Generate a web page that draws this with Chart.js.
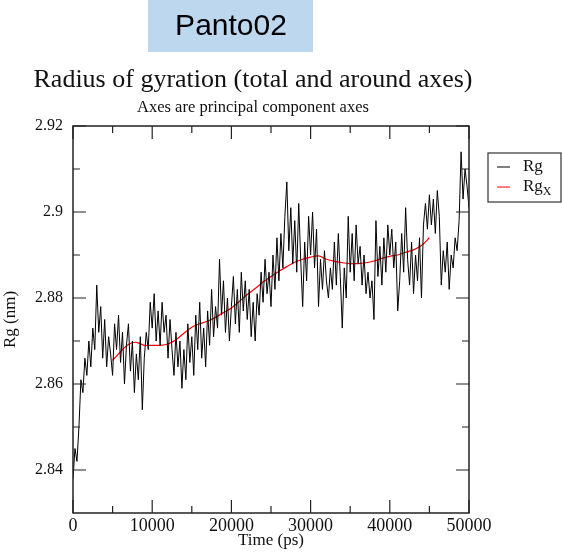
<!DOCTYPE html>
<html>
<head>
<meta charset="utf-8">
<script src="https://cdn.jsdelivr.net/npm/chart.js@4.4.1/dist/chart.umd.min.js"></script>
<style>
  html, body { margin: 0; padding: 0; background: #fff; }
  #wrap { position: relative; width: 562px; height: 552px; }
</style>
</head>
<body>
<div id="wrap"><canvas id="rgChart" width="562" height="552"></canvas></div>
<script>
// ---------- Dades ----------
const headerText = "Panto02";
const chartTitle = "Radius of gyration (total and around axes)";
const chartSubtitle = "Axes are principal component axes";
const xTitle = "Time (ps)";
const yTitle = "Rg (nm)";

// Rg total, una mostra cada 250 ps (0 .. 50000 ps)
const rgStep = 250;
const rgValues = [
  2.838, 2.845, 2.842, 2.850,  2.861, 2.858, 2.866, 2.862,
  2.870, 2.864, 2.873, 2.868,  2.883, 2.872, 2.878, 2.866,
  2.875, 2.864, 2.871, 2.867,  2.862, 2.874, 2.868, 2.876,
  2.865, 2.872, 2.860, 2.869,  2.874, 2.863, 2.870, 2.858,
  2.867, 2.861, 2.871, 2.854,  2.866, 2.872, 2.868, 2.879,
  2.873, 2.881, 2.870, 2.877,  2.869, 2.879, 2.872, 2.876,
  2.866, 2.875, 2.868, 2.862,  2.872, 2.864, 2.870, 2.859,
  2.868, 2.861, 2.874, 2.865,  2.871, 2.862, 2.876, 2.868,
  2.879, 2.866, 2.873, 2.864,  2.877, 2.869, 2.882, 2.871,
  2.878, 2.873, 2.889, 2.876,  2.884, 2.872, 2.880, 2.870,
  2.878, 2.885, 2.874, 2.882,  2.872, 2.886, 2.877, 2.884,
  2.875, 2.882, 2.871, 2.879,  2.870, 2.881, 2.876, 2.886,
  2.879, 2.889, 2.881, 2.886,  2.878, 2.890, 2.882, 2.894,
  2.884, 2.895, 2.887, 2.899,  2.907, 2.891, 2.901, 2.888,
  2.898, 2.886, 2.902, 2.889,  2.878, 2.893, 2.884, 2.899,
  2.890, 2.900, 2.887, 2.896,  2.878, 2.889, 2.882, 2.891,
  2.884, 2.880, 2.887, 2.882,  2.893, 2.883, 2.895, 2.885,
  2.873, 2.887, 2.880, 2.899,  2.886, 2.895, 2.884, 2.897,
  2.888, 2.892, 2.883, 2.890,  2.881, 2.886, 2.880, 2.884,
  2.875, 2.898, 2.885, 2.892,  2.883, 2.894, 2.886, 2.897,
  2.890, 2.896, 2.887, 2.893,  2.877, 2.884, 2.895, 2.886,
  2.901, 2.889, 2.883, 2.893,  2.881, 2.890, 2.884, 2.894,
  2.880, 2.897, 2.902, 2.896,  2.904, 2.897, 2.903, 2.895,
  2.905, 2.899, 2.883, 2.891,  2.886, 2.893, 2.882, 2.890,
  2.887, 2.894, 2.891, 2.898,  2.914, 2.903, 2.910, 2.906,
  2.901
];

// Rg al voltant de l'eix X (mitjana mòbil), 5000 .. 45000 ps
const rgxTimes = [
  5000, 6000, 7000, 8000, 9000, 10000, 11000, 12000, 13000, 14000,
  15000, 16000, 17000, 18000, 19000, 20000, 21000, 22000, 23000, 24000,
  25000, 26000, 27000, 28000, 29000, 30000, 31000, 32000, 33000, 34000,
  35000, 36000, 37000, 38000, 39000, 40000, 41000, 42000, 43000, 44000, 45000
];
const rgxValues = [
  2.8655, 2.8675, 2.8692, 2.8697, 2.8690, 2.8690, 2.8690, 2.8693, 2.8703, 2.8718,
  2.8732, 2.8740, 2.8746, 2.8755, 2.8766, 2.8777, 2.8792, 2.8808, 2.8822, 2.8837,
  2.8850, 2.8862, 2.8873, 2.8883, 2.8890, 2.8895, 2.8898, 2.8890, 2.8885, 2.8882,
  2.8880, 2.8880, 2.8882, 2.8886, 2.8892, 2.8897, 2.8900, 2.8906, 2.8912, 2.8922, 2.8940
];

// Marques dels eixos
const xMajorTicks = [0, 10000, 20000, 30000, 40000, 50000];
const xMinorTicks = [5000, 15000, 25000, 35000, 45000];
const yMajorTicks = [2.84, 2.86, 2.88, 2.90, 2.92];
const yMinorTicks = [2.85, 2.87, 2.89, 2.91];

// ---------- Estils ----------
const serif = '"Liberation Serif", "DejaVu Serif", "Times New Roman", serif';
const sans = '"Liberation Sans", Arial, sans-serif';

// ---------- Decoració: capçalera, títols, marc, marques i llegenda ----------
const decorPlugin = {
  id: 'decor',
  beforeDraw(chart) {
    const ctx = chart.ctx;
    ctx.save();
    ctx.fillStyle = '#bdd7ee';
    ctx.fillRect(148, 0, 165, 52);
    ctx.fillStyle = '#000';
    ctx.font = '30px ' + sans;
    ctx.textAlign = 'center';
    ctx.textBaseline = 'middle';
    ctx.fillText(headerText, 231, 27);

    ctx.fillStyle = '#111';
    ctx.font = '26px ' + serif;
    ctx.fillText(chartTitle, 253, 80);
    ctx.font = '16.5px ' + serif;
    ctx.fillText(chartSubtitle, 253, 108);
    ctx.restore();
  },
  afterDraw(chart) {
    const ctx = chart.ctx;
    const { left, right, top, bottom } = chart.chartArea;
    const xs = chart.scales.x, ys = chart.scales.y;
    ctx.save();
    ctx.strokeStyle = '#222';
    ctx.lineWidth = 1.5;
    ctx.strokeRect(left, top, right - left, bottom - top);

    ctx.lineWidth = 1.2;
    ctx.beginPath();
    const xTick = (v, len) => {
      const px = xs.getPixelForValue(v);
      ctx.moveTo(px, bottom); ctx.lineTo(px, bottom - len);
      ctx.moveTo(px, top); ctx.lineTo(px, top + len);
    };
    const yTick = (v, len) => {
      const py = ys.getPixelForValue(v);
      ctx.moveTo(left, py); ctx.lineTo(left + len, py);
      ctx.moveTo(right, py); ctx.lineTo(right - len, py);
    };
    xMajorTicks.forEach(v => xTick(v, 13));
    xMinorTicks.forEach(v => xTick(v, 7));
    yMajorTicks.forEach(v => yTick(v, 13));
    yMinorTicks.forEach(v => yTick(v, 7));
    ctx.stroke();

    // llegenda
    const lx = 488, ly = 153, lw = 73, lh = 49;
    ctx.lineWidth = 1.2;
    ctx.strokeStyle = '#333';
    ctx.strokeRect(lx, ly, lw, lh);
    ctx.textAlign = 'left';
    ctx.textBaseline = 'middle';
    chart.data.datasets.forEach((ds, i) => {
      const y = ly + 14 + i * 20;
      ctx.strokeStyle = ds.borderColor;
      ctx.lineWidth = 1;
      ctx.beginPath();
      ctx.moveTo(lx + 9, y); ctx.lineTo(lx + 22, y);
      ctx.stroke();
      ctx.fillStyle = '#111';
      ctx.font = '17px ' + serif;
      ctx.fillText(ds.label, lx + 35, y);
      if (ds.sub) {
        const w = ctx.measureText(ds.label).width;
        ctx.font = '12px ' + serif;
        ctx.fillText(ds.sub, lx + 35 + w, y + 5);
      }
    });
    ctx.restore();
  }
};

const ctx = document.getElementById('rgChart').getContext('2d');

window.rgChart = new Chart(ctx, {
  type: 'line',
  data: {
    datasets: [
      {
        label: 'Rg',
        data: rgValues.map((v, i) => ({ x: i * rgStep, y: v })),
        borderColor: '#000',
        borderWidth: 1,
        pointRadius: 0,
        tension: 0
      },
      {
        label: 'Rg',
        sub: 'X',
        data: rgxTimes.map((t, i) => ({ x: t, y: rgxValues[i] })),
        borderColor: '#ff0000',
        borderWidth: 1.2,
        pointRadius: 0,
        tension: 0.3
      }
    ]
  },
  options: {
    responsive: false,
    animation: false,
    layout: { padding: { left: 0, right: 93, top: 126, bottom: 0 } },
    plugins: {
      legend: { display: false },
      tooltip: { enabled: false }
    },
    scales: {
      x: {
        type: 'linear',
        min: 0,
        max: 50000,
        afterBuildTicks: s => { s.ticks = xMajorTicks.map(v => ({ value: v })); },
        afterFit: s => { s.height = 39; },
        grid: { display: false, drawTicks: false },
        border: { display: false },
        ticks: {
          autoSkip: false,
          maxRotation: 0,
          padding: 2,
          color: '#111',
          font: { family: serif, size: 18 },
          callback: v => String(v)
        },
        title: {
          display: true,
          text: xTitle,
          color: '#111',
          padding: { top: 0, bottom: 1 },
          font: { family: serif, size: 17 }
        }
      },
      y: {
        min: 2.83,
        max: 2.92,
        afterBuildTicks: s => { s.ticks = yMajorTicks.map(v => ({ value: v })); },
        afterFit: s => { s.width = 73; },
        grid: { display: false, drawTicks: false },
        border: { display: false },
        ticks: {
          padding: 10,
          color: '#111',
          font: { family: serif, size: 16 },
          callback: v => String(+v.toFixed(2))
        },
        title: {
          display: true,
          text: yTitle,
          color: '#111',
          padding: { top: 0, bottom: 6 },
          font: { family: serif, size: 17 }
        }
      }
    }
  },
  plugins: [decorPlugin]
});
</script>
</body>
</html>
